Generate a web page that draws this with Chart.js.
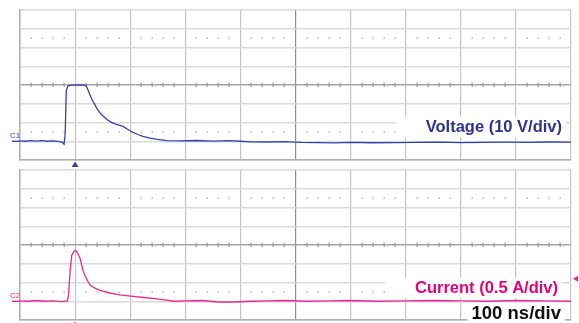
<!DOCTYPE html>
<html>
<head>
<meta charset="utf-8">
<script src="https://cdn.jsdelivr.net/npm/chart.js@4.4.1/dist/chart.umd.min.js"></script>
<style>
  body { margin: 0; background: #fff; }
  #wrap { position: relative; width: 579px; height: 323px; overflow: hidden; }
  canvas { position: absolute; left: 0; }
  #top { top: 0; }
  #bottom { top: 168px; }
</style>
</head>
<body>
<div id="wrap">
  <canvas id="top" width="579" height="168"></canvas>
  <canvas id="bottom" width="579" height="155"></canvas>
</div>
<script>
// time axis, ns (100 ns/div)
const timeTicks = [0, 100, 200, 300, 400, 500, 600, 700, 800, 900, 1000]

// C1 voltage, V (10 V/div)
const voltTime = [0, 10, 20, 30, 40, 50, 60, 70, 77, 80, 82, 84, 87, 95, 105, 115, 120, 124, 127, 131, 136, 140, 145, 150, 158, 165, 175, 187, 196, 205, 214, 223, 236, 249, 267, 290, 320, 350, 380, 400, 420, 450, 480, 510, 540, 570, 600, 640, 680, 720, 760, 800, 840, 880, 920, 960, 1000]
const voltValues = [0.2, 0.0, 0.3, 0.1, 0.3, 0.0, 0.2, -0.1, -0.6, -1.6, 4, 27, 29.6, 29.9, 30, 29.9, 29.7, 27, 24.7, 22, 19.5, 17.2, 15.3, 13.6, 11.6, 10.2, 9.0, 7.9, 6.3, 4.7, 3.6, 2.6, 1.7, 1.0, 0.3, 0.2, 0.4, 0.1, 0.3, 0.0, -0.3, -0.4, -0.2, -0.6, -0.7, -0.9, -0.6, -0.8, -0.7, -0.6, -0.5, -0.7, -0.6, -0.5, -0.6, -0.4, -0.5]

// C2 current, A (0.5 A/div)
const currTime = [0, 15, 30, 45, 60, 75, 86, 88, 91, 94, 98, 101, 104, 109, 114, 118, 122, 127, 136, 145, 163, 181, 205, 225, 245, 265, 280, 300, 330, 360, 390, 420, 450, 480, 520, 560, 600, 650, 700, 750, 800, 850, 900, 950, 1000]
const currValues = [0.01, 0.0, 0.02, 0.0, 0.01, -0.01, 0.01, 0.15, 0.83, 1.23, 1.34, 1.36, 1.3, 1.15, 0.83, 0.68, 0.56, 0.43, 0.35, 0.29, 0.22, 0.17, 0.13, 0.1, 0.07, 0.03, 0.0, 0.01, 0.02, -0.02, -0.02, 0.0, 0.01, 0.02, 0.0, 0.01, 0.02, 0.0, 0.01, 0.02, 0.01, 0.0, 0.02, 0.01, 0.0]

const voltAxis = { min: -10, max: 70, step: 10, center: 30, dots: [5, 55] }
const currAxis = { min: -0.5, max: 3.5, step: 0.5, center: 1.5, dots: [0.25, 2.75] }

function toPoints(xs, ys) {
    return xs.map((t, i) => ({ x: t, y: ys[i] }))
}

const scopeGrid = {
    id: 'scopeGrid',
    beforeDatasetsDraw(chart, args, opts) {
        const { ctx, scales: { x, y } } = chart
        ctx.save()
        const yc = y.getPixelForValue(opts.center)
        for (let t = 0; t <= 1000; t += 20) {
            if (t % 100 === 0) continue
            const px = x.getPixelForValue(t)
            ctx.fillStyle = '#9a9a9a'
            ctx.fillRect(Math.round(px) - 0.5, yc - 2, 1.3, 4)
            ctx.fillStyle = '#bcbcbc'
            opts.dots.forEach(v => {
                ctx.fillRect(Math.round(px) - 0.5, Math.round(y.getPixelForValue(v)) - 0.5, 1.5, 1.5)
            })
        }
        ctx.restore()
    },
    afterDraw(chart, args, opts) {
        const { ctx, scales: { x, y } } = chart
        ctx.save()
        // channel marker at ground level
        const y0 = y.getPixelForValue(0)
        ctx.strokeStyle = opts.color
        ctx.lineWidth = 1.4
        ctx.beginPath()
        ctx.moveTo(12, y0)
        ctx.lineTo(chart.chartArea.left, y0)
        ctx.stroke()
        ctx.fillStyle = opts.color
        ctx.font = '8px "Liberation Sans", Arial, sans-serif'
        ctx.textAlign = 'left'
        ctx.textBaseline = 'bottom'
        ctx.fillText(opts.channel, 10, y0 - 1)
        // labels with white backing
        opts.labels.forEach(l => {
            ctx.font = 'bold ' + l.size + 'px "Liberation Sans", Arial, sans-serif'
            const w = ctx.measureText(l.text).width
            ctx.fillStyle = '#fff'
            ctx.fillRect(l.x - w - l.padLeft, l.y - l.size * 0.62, w + l.padLeft + 4, l.size * 1.24)
            ctx.fillStyle = l.color
            ctx.textAlign = 'right'
            ctx.textBaseline = 'middle'
            ctx.fillText(l.text, l.x, l.y)
        })
        // markers
        ctx.fillStyle = opts.color
        if (opts.triggerTime !== undefined) {
            const px = x.getPixelForValue(opts.triggerTime)
            const pb = chart.chartArea.bottom
            ctx.beginPath()
            ctx.moveTo(px, pb + 1.5)
            ctx.lineTo(px + 3.5, pb + 7)
            ctx.lineTo(px - 3.5, pb + 7)
            ctx.closePath()
            ctx.fill()
        }
        if (opts.triggerLevel !== undefined) {
            const py = y.getPixelForValue(opts.triggerLevel)
            const pr = chart.chartArea.right
            ctx.beginPath()
            ctx.moveTo(pr + 2, py)
            ctx.lineTo(pr + 7, py - 3)
            ctx.lineTo(pr + 7, py + 3)
            ctx.closePath()
            ctx.fill()
            const px = x.getPixelForValue(100)
            ctx.fillRect(px - 0.75, chart.chartArea.bottom + 2, 1.5, 6)
        }
        ctx.restore()
    }
}

function makeScope(canvasId, times, values, axis, color, padding, extra) {
    const ctx = document.getElementById(canvasId).getContext('2d')
    return new Chart(ctx, {
        type: 'line',
        data: {
            datasets: [{
                data: toPoints(times, values),
                borderColor: color,
                borderWidth: 1.3,
                pointRadius: 0,
                tension: 0,
                fill: false,
            }]
        },
        options: {
            responsive: false,
            animation: false,
            layout: { padding: padding },
            plugins: {
                legend: { display: false },
                tooltip: { enabled: false },
                scopeGrid: Object.assign({ center: axis.center, dots: axis.dots, color: color }, extra)
            },
            scales: {
                x: {
                    type: 'linear',
                    min: 0,
                    max: 1000,
                    afterBuildTicks: scale => { scale.ticks = timeTicks.map(v => ({ value: v })) },
                    ticks: { display: false },
                    grid: {
                        drawTicks: false,
                        color: c => c.tick && c.tick.value === 500 ? '#8e8e8e' : '#c4c4c4',
                        lineWidth: 1.2,
                    },
                    border: { color: '#b0b0b0', width: 1.5 },
                },
                y: {
                    min: axis.min,
                    max: axis.max,
                    ticks: { display: false, stepSize: axis.step },
                    grid: {
                        drawTicks: false,
                        color: c => c.tick && Math.abs(c.tick.value - axis.center) < 1e-9 ? '#a6a6a6' : '#d9d9d9',
                        lineWidth: 1.5,
                    },
                    border: { color: '#b0b0b0', width: 1.5 },
                }
            }
        },
        plugins: [scopeGrid]
    })
}

makeScope('top', voltTime, voltValues, voltAxis, '#3540b0',
    { left: 20, right: 8, top: 10, bottom: 8 },
    {
        channel: 'C1',
        triggerTime: 100,
        labels: [{ text: 'Voltage (10 V/div)', color: '#2e3192', size: 16.5, x: 562, y: 127, padLeft: 30 }]
    })

makeScope('bottom', currTime, currValues, currAxis, '#ea2890',
    { left: 20, right: 8, top: 2, bottom: 3 },
    {
        channel: 'C2',
        triggerLevel: 0.6,
        labels: [
            { text: 'Current (0.5 A/div)', color: '#e5007e', size: 16.5, x: 558, y: 120, padLeft: 30 },
            { text: '100 ns/div', color: '#111', size: 18.5, x: 561, y: 146, padLeft: 4 }
        ]
    })
</script>
</body>
</html>
